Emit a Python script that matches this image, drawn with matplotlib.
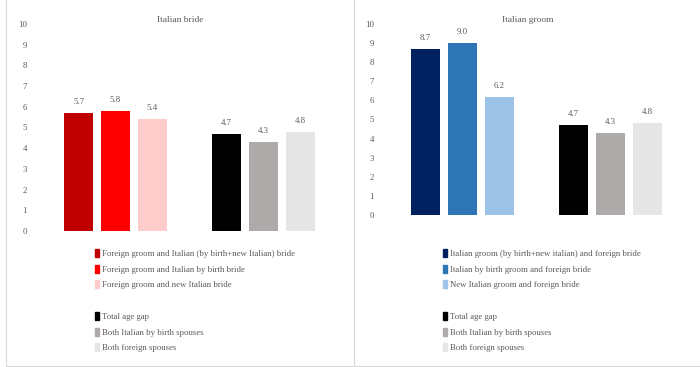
import matplotlib
matplotlib.use("Agg")
import matplotlib.pyplot as plt
from matplotlib.lines import Line2D
from matplotlib.patches import Patch

# data
positions = [0, 1, 2, 4, 5, 6]

bride_values = [5.7, 5.8, 5.4, 4.7, 4.3, 4.8]
bride_labels = ["Foreign groom and Italian (by birth+new Italian) bride",
                "Foreign groom and Italian by birth bride",
                "Foreign groom and new Italian bride",
                "Total age gap",
                "Both Italian by birth spouses",
                "Both foreign spouses"]
bride_colors = ["#C00000", "#FF0000", "#FFCCCC", "#000000", "#AEAAAA", "#E7E6E6"]

groom_values = [8.7, 9.0, 6.2, 4.7, 4.3, 4.8]
groom_labels = ["Italian groom (by birth+new italian) and foreign bride",
                "Italian by birth groom and foreign bride",
                "New Italian groom and foreign bride",
                "Total age gap",
                "Both Italian by birth spouses",
                "Both foreign spouses"]
groom_colors = ["#002060", "#2E75B6", "#9DC3E6", "#000000", "#AEAAAA", "#E7E6E6"]

yticks = list(range(0, 11))

txt = "#595959"
fs = 6.3
plt.rcParams['font.family'] = ['Liberation Serif', 'DejaVu Serif']

W, H = 700, 367
fig = plt.figure(figsize=(7, 3.67), dpi=100)


def px(x0, y_top, x1, y_bot):
    return [x0 / W, (H - y_bot) / H, (x1 - x0) / W, (y_bot - y_top) / H]


def panel(rect, values, colors, labels, title, title_x, leg_x):
    ax = fig.add_axes(rect)
    bars = ax.bar(positions, values, width=0.78, color=colors)
    ax.bar_label(bars, fmt="%.1f", padding=5, color=txt, fontsize=fs)
    ax.set_xlim(-1.2, 7.2)
    ax.set_ylim(0, 10)
    ax.set_yticks(yticks)
    ax.tick_params(axis='y', length=0, pad=5, labelcolor=txt, labelsize=fs)
    ax.set_xticks([])
    for s in ax.spines.values():
        s.set_visible(False)
    fig.text(title_x / W, (H - 20) / H, title, ha='center', va='center',
             color=txt, fontsize=fs + 0.5)
    handles = [Patch(color=c) for c in colors[:3]]
    handles.append(Patch(color='none'))
    handles += [Patch(color=c) for c in colors[3:]]
    labs = labels[:3] + [""] + labels[3:]
    fig.legend(handles, labs, loc='upper left',
               bbox_to_anchor=(leg_x / W, (H - 249) / H),
               frameon=False, fontsize=fs, labelcolor=txt,
               handlelength=0.45, handleheight=1.0, handletextpad=0.35,
               labelspacing=0.78, borderpad=0, borderaxespad=0)
    return ax


panel(px(34.1, 24, 344.9, 231), bride_values, bride_colors, bride_labels,
      "Italian bride", 180, 95)
panel(px(381.1, 24, 691.9, 215), groom_values, groom_colors, groom_labels,
      "Italian groom", 528, 443)

# light panel borders
border = "#D9D9D9"
fig.add_artist(Line2D([6 / W, 6 / W], [1, (H - 366) / H], color=border, lw=0.8))
fig.add_artist(Line2D([354 / W, 354 / W], [1, (H - 366) / H], color=border, lw=0.8))
fig.add_artist(Line2D([6 / W, 1], [(H - 366) / H, (H - 366) / H], color=border, lw=0.8))

fig.savefig("out.png", dpi=100)
